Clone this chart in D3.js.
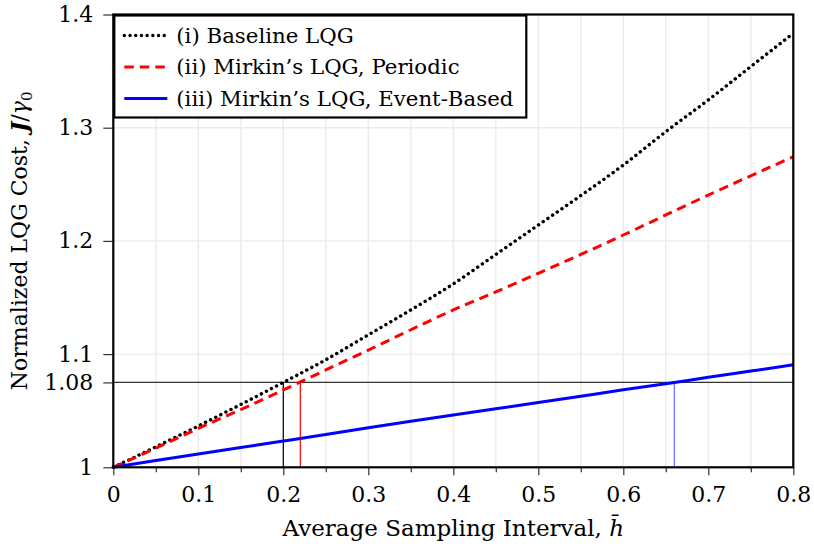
<!DOCTYPE html>
<html lang="en">
<head>
	<meta charset="UTF-8">
	<title>Normalized LQG Cost</title>
	<script type="text/javascript" src="https://cdn.jsdelivr.net/npm/d3@7"></script>
	<style>
		body {
			margin: 0;
			background: #fff;
		}

		svg text {
			font-family: "DejaVu Serif", serif;
			fill: #000;
		}
	</style>
</head>
<body>
<div id="chart"></div>

<script type="text/javascript">
	// sampling interval grid (h bar)
	var hValues = [0, 0.05, 0.1, 0.15, 0.2, 0.25, 0.3, 0.35, 0.4, 0.45, 0.5, 0.55, 0.6, 0.65, 0.7, 0.75, 0.8];

	// (i) baseline LQG
	var baselineCost = [1, 1.018, 1.0365, 1.0555, 1.075, 1.095, 1.117, 1.139, 1.162, 1.188, 1.214, 1.240, 1.267, 1.2965, 1.3245, 1.354, 1.3834];
	// (ii) Mirkin's LQG, periodic
	var periodicCost = [1, 1.017, 1.0344, 1.051, 1.0683, 1.086, 1.1035, 1.1215, 1.139, 1.155, 1.1714, 1.188, 1.2052, 1.2229, 1.2405, 1.2575, 1.2744];
	// (iii) Mirkin's LQG, event-based
	var eventCost = [1, 1.006, 1.0117, 1.0175, 1.0232, 1.029, 1.035, 1.0406, 1.0462, 1.0517, 1.0572, 1.0628, 1.0685, 1.0738, 1.0795, 1.085, 1.0905];

	var seriesNames = ['(i) Baseline LQG', '(ii) Mirkin\u2019s LQG, Periodic', '(iii) Mirkin\u2019s LQG, Event-Based'];

	// cost level and the interval at which each scheme reaches it
	var costLevel = 1.075;
	var costLevelLabel = '1.08';
	var crossH = [0.2, 0.22, 0.66];

	var xTicks = [0, 0.1, 0.2, 0.3, 0.4, 0.5, 0.6, 0.7, 0.8];
	var xMinorTicks = [0.05, 0.15, 0.25, 0.35, 0.45, 0.55, 0.65, 0.75];
	var yTicks = [1, 1.1, 1.2, 1.3, 1.4];

	var margin = {top: 14.5, left: 113.3, bottom: 80.7, right: 20.7};
	var totalW = 814, totalH = 548;
	var width = totalW - margin.left - margin.right;
	var height = totalH - margin.top - margin.bottom;

	var styles = [
		{color: '#000', dash: '0.1,5.6', width: 3.4, cap: 'round'},
		{color: '#ff0000', dash: '9.5,6', width: 3, cap: 'butt'},
		{color: '#0000ff', dash: null, width: 3, cap: 'butt'}
	];
	var markColors = ['#000', '#ff0000', '#6666ff'];

	var svg = d3.select('#chart')
		.append('svg')
		.attr('width', totalW)
		.attr('height', totalH);

	var g = svg.append('g')
		.attr('transform', 'translate(' + margin.left + ',' + margin.top + ')');

	var x = d3.scaleLinear()
		.domain([0, 0.8])
		.range([0, width]);

	var y = d3.scaleLinear()
		.domain([1, 1.4])
		.range([height, 0]);

	// grid
	g.selectAll('.vgrid')
		.data(xTicks.concat(xMinorTicks).filter(function (d) {
			return d > 0 && d < 0.8;
		}))
		.enter().append('line')
		.attr('class', 'vgrid')
		.attr('x1', function (d) { return x(d); })
		.attr('x2', function (d) { return x(d); })
		.attr('y1', 0)
		.attr('y2', height)
		.attr('stroke', '#ebebeb')
		.attr('stroke-width', 1.4);

	g.selectAll('.hgrid')
		.data(yTicks.filter(function (d) {
			return d > 1 && d < 1.4;
		}))
		.enter().append('line')
		.attr('class', 'hgrid')
		.attr('x1', 0)
		.attr('x2', width)
		.attr('y1', function (d) { return y(d); })
		.attr('y2', function (d) { return y(d); })
		.attr('stroke', '#ebebeb')
		.attr('stroke-width', 1.4);

	// reference level
	g.append('line')
		.attr('x1', 0)
		.attr('x2', width)
		.attr('y1', y(costLevel))
		.attr('y2', y(costLevel))
		.attr('stroke', '#333')
		.attr('stroke-width', 1.3);

	g.selectAll('.cross')
		.data(crossH)
		.enter().append('line')
		.attr('class', 'cross')
		.attr('x1', function (d) { return x(d); })
		.attr('x2', function (d) { return x(d); })
		.attr('y1', y(1))
		.attr('y2', y(costLevel))
		.attr('stroke', function (d, i) { return markColors[i]; })
		.attr('stroke-width', 1.2);

	// curves
	var line = d3.line()
		.x(function (d) { return x(d[0]); })
		.y(function (d) { return y(d[1]); })
		.curve(d3.curveMonotoneX);

	var allSeries = [baselineCost, periodicCost, eventCost];

	g.selectAll('.curve')
		.data(allSeries)
		.enter().append('path')
		.attr('class', 'curve')
		.attr('d', function (s) {
			return line(hValues.map(function (h, i) {
				return [h, s[i]];
			}));
		})
		.attr('fill', 'none')
		.attr('stroke', function (d, i) { return styles[i].color; })
		.attr('stroke-width', function (d, i) { return styles[i].width; })
		.attr('stroke-linecap', function (d, i) { return styles[i].cap; })
		.attr('stroke-dasharray', function (d, i) { return styles[i].dash; });

	// axes
	g.append('g')
		.attr('transform', 'translate(0,' + height + ')')
		.call(d3.axisBottom(x).tickValues(xTicks).tickSize(8).tickPadding(11).tickFormat(function (d) {
			return d === 0 ? '0' : d3.format('.1f')(d);
		}));

	g.append('g')
		.attr('transform', 'translate(0,' + height + ')')
		.call(d3.axisBottom(x).tickValues(xMinorTicks).tickSize(5).tickFormat(''));

	g.append('g')
		.call(d3.axisLeft(y).tickValues(yTicks.concat([costLevel])).tickSize(10).tickPadding(10)
			.tickFormat(function (d) {
				if (d === costLevel) return costLevelLabel;
				return d === 1 ? '1' : d3.format('.1f')(d);
			}));

	svg.selectAll('.tick line')
		.attr('stroke', '#333')
		.attr('stroke-width', 1.2);
	svg.selectAll('.domain').remove();
	svg.selectAll('.tick text')
		.attr('font-size', 22)
		.style('font-family', '"DejaVu Serif", serif');

	// frame
	g.append('rect')
		.attr('x', 0)
		.attr('y', 0)
		.attr('width', width)
		.attr('height', height)
		.attr('fill', 'none')
		.attr('stroke', '#000')
		.attr('stroke-width', 2.2);

	// legend
	var legend = g.append('g')
		.attr('transform', 'translate(1,1)');

	legend.append('rect')
		.attr('x', 0)
		.attr('y', 0)
		.attr('width', 412)
		.attr('height', 102)
		.attr('fill', '#fff')
		.attr('stroke', '#000')
		.attr('stroke-width', 2.2);

	var items = legend.selectAll('.item')
		.data(seriesNames)
		.enter().append('g')
		.attr('class', 'item')
		.attr('transform', function (d, i) {
			return 'translate(0,' + (20 + i * 31.5) + ')';
		});

	items.append('line')
		.attr('x1', 10)
		.attr('x2', 53)
		.attr('y1', 0)
		.attr('y2', 0)
		.attr('stroke', function (d, i) { return styles[i].color; })
		.attr('stroke-width', function (d, i) { return styles[i].width; })
		.attr('stroke-linecap', function (d, i) { return styles[i].cap; })
		.attr('stroke-dasharray', function (d, i) { return styles[i].dash; });

	items.append('text')
		.attr('x', 62)
		.attr('dy', '0.35em')
		.attr('font-size', 21.3)
		.text(function (d) { return d; });

	// axis titles
	var xt = svg.append('text')
		.attr('x', margin.left + width / 2)
		.attr('y', 536)
		.attr('text-anchor', 'middle')
		.attr('font-size', 23);
	xt.append('tspan').text('Average Sampling Interval, ');
	xt.append('tspan').attr('font-style', 'italic').text('h\u0304');

	var yt = svg.append('text')
		.attr('transform', 'translate(27,' + (margin.top + height / 2) + ') rotate(-90)')
		.attr('text-anchor', 'middle')
		.attr('font-size', 22);
	yt.append('tspan').text('Normalized LQG Cost, ');
	yt.append('tspan').attr('font-style', 'italic').attr('font-weight', 'bold').text('J');
	yt.append('tspan').text('/');
	yt.append('tspan').attr('font-style', 'italic').text('\u03b3');
	yt.append('tspan').attr('font-size', 15).attr('dy', 5).text('0');
</script>
</body>
</html>
